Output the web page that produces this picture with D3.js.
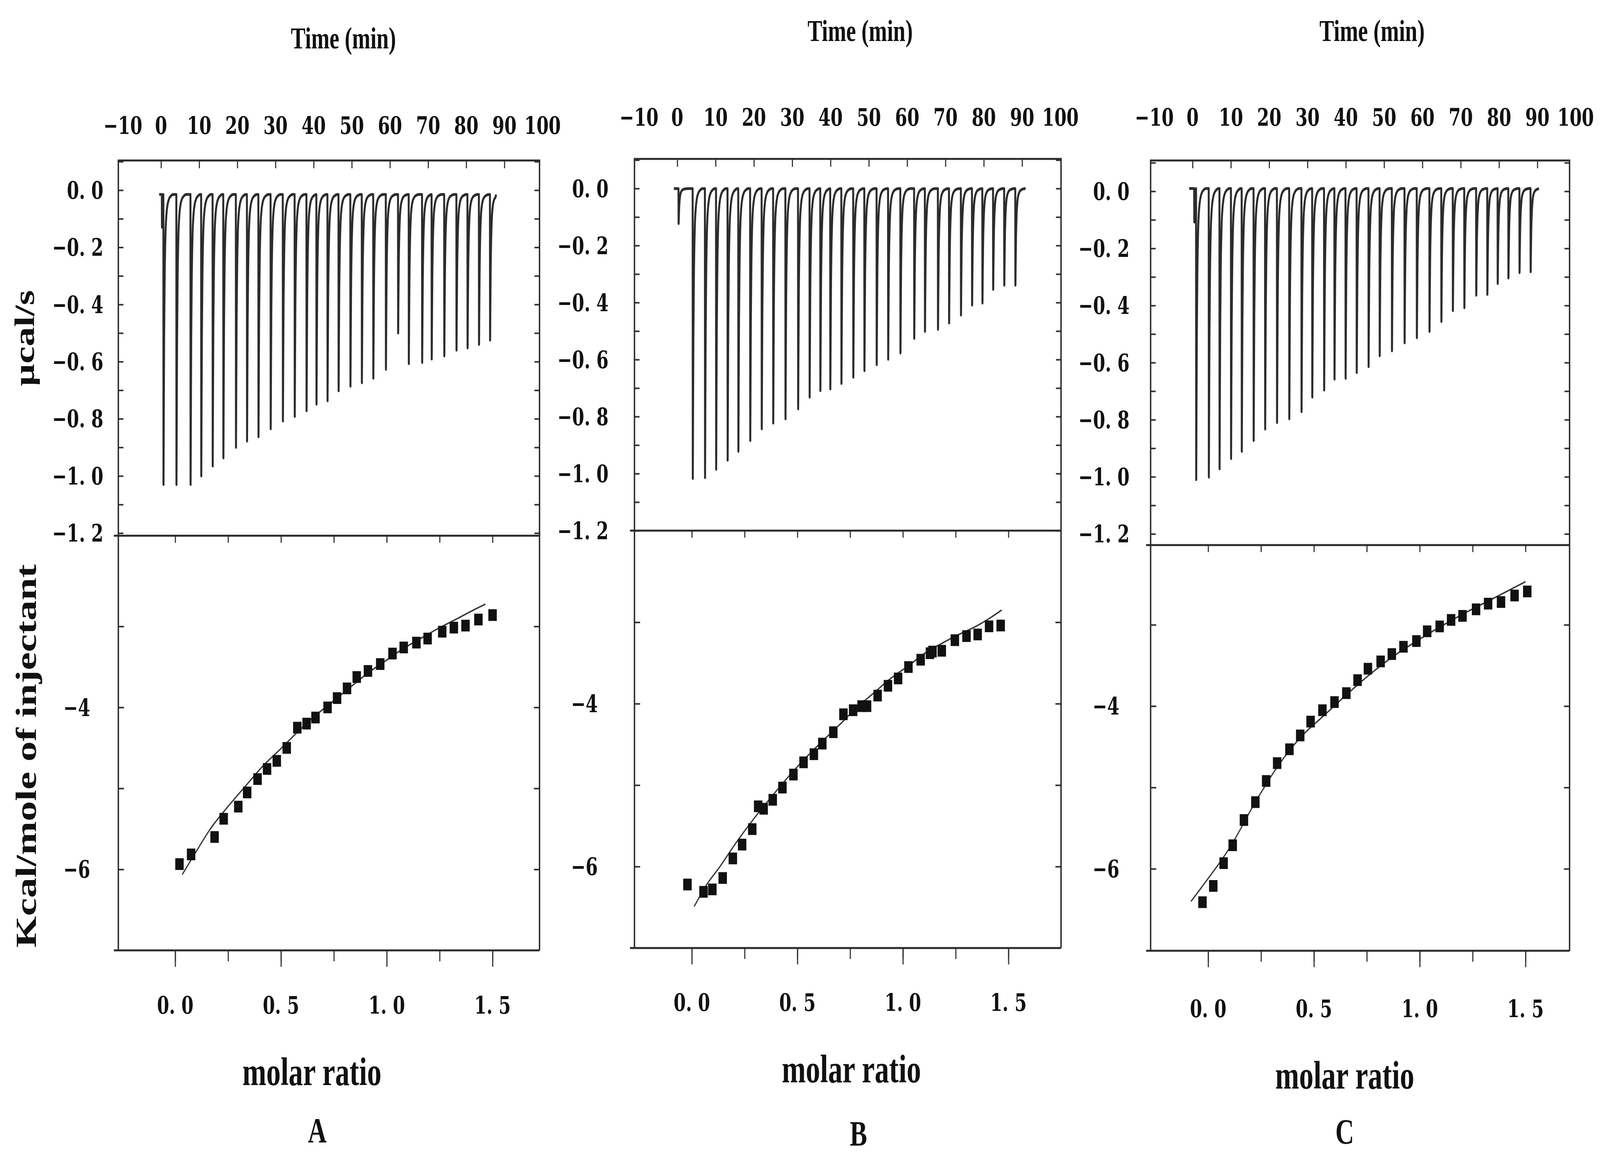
<!DOCTYPE html>
<html>
<head>
<meta charset="utf-8">
<script src="https://cdn.jsdelivr.net/npm/d3@7"></script>
<style>
  html, body { margin: 0; padding: 0; background: #fff; overflow: hidden; }
  svg { display: block; width: 100vw; height: 100vh; }
</style>
</head>
<body>
<svg id="chart" viewBox="0 0 5679 2976" preserveAspectRatio="none"></svg>
<script>
// ---- tick labels ----
const timeTicks = [-10, 0, 10, 20, 30, 40, 50, 60, 70, 80, 90, 100];
const timeMarks = [0, 10, 20, 30, 40, 50, 60, 70, 80, 90];
const powerTicks = [0, -0.2, -0.4, -0.6, -0.8, -1.0, -1.2];
const powerMarks = [0.1, 0, -0.1, -0.2, -0.3, -0.4, -0.5, -0.6, -0.7, -0.8, -0.9, -1.0, -1.1, -1.2];
const heatTicks = [-4, -6];
const heatMarks = [-3, -4, -5, -6];
const ratioTicks = [0, 0.5, 1.0, 1.5];
const ratioMarks = [0, 0.25, 0.5, 0.75, 1.0, 1.25, 1.5];

// ---- raw thermograms: injection time (min) and peak minimum (µcal/s) ----
const injTimesA = [0.2, 0.6, 4.0, 7.7, 10.5, 13.5, 16.3, 19.6, 22.5, 25.5, 28.7, 31.9, 35.0, 38.1, 40.7, 43.6, 46.5, 49.6, 52.6, 55.6, 58.9, 62.1, 64.9, 68.4, 70.9, 74.2, 77.4, 80.3, 83.3, 86.2];
const peakMinA = [-0.13, -1.03, -1.03, -1.03, -1.0, -0.965, -0.937, -0.90, -0.878, -0.863, -0.835, -0.808, -0.792, -0.772, -0.749, -0.737, -0.702, -0.686, -0.674, -0.658, -0.627, -0.50, -0.607, -0.603, -0.591, -0.58, -0.56, -0.552, -0.54, -0.525];

const injTimesB = [0.3, 4.0, 7.2, 10.1, 13.1, 15.9, 19.0, 22.0, 25.0, 28.2, 31.5, 34.5, 37.3, 39.9, 42.8, 45.9, 48.8, 52.0, 55.0, 58.2, 61.8, 64.6, 68.0, 70.9, 74.0, 76.9, 79.6, 82.4, 85.3, 88.2];
const peakMinB = [-0.123, -1.017, -1.014, -0.985, -0.953, -0.922, -0.884, -0.843, -0.823, -0.808, -0.773, -0.732, -0.709, -0.703, -0.684, -0.662, -0.639, -0.618, -0.599, -0.577, -0.526, -0.501, -0.494, -0.472, -0.444, -0.409, -0.402, -0.354, -0.339, -0.339];

const injTimesC = [0.4, 0.9, 4.2, 7.0, 10.0, 12.8, 15.9, 18.9, 22.0, 25.2, 28.4, 31.2, 34.3, 37.0, 39.9, 42.8, 45.9, 48.8, 52.0, 55.3, 58.5, 61.8, 64.9, 67.9, 70.9, 74.0, 76.9, 79.6, 82.4, 85.3, 88.2];
const peakMinC = [-0.108, -1.01, -1.001, -0.972, -0.936, -0.911, -0.873, -0.833, -0.81, -0.797, -0.772, -0.721, -0.696, -0.658, -0.655, -0.635, -0.614, -0.576, -0.559, -0.531, -0.513, -0.491, -0.456, -0.418, -0.408, -0.364, -0.361, -0.323, -0.304, -0.285, -0.282];

// baseline level and run start/end (min)
const baselineA = [-0.015, -0.5, 87.8];
const baselineB = [0.0, -0.9, 90.9];
const baselineC = [0.01, -0.9, 90.4];

// shape of one injection peak: [min after injection, fraction of peak depth]
const peakShape = [[0, 0], [0.04, 1], [0.1, 0.8], [0.2, 0.5], [0.35, 0.28], [0.55, 0.14], [0.8, 0.07], [1.1, 0.035], [1.5, 0.015], [2.0, 0.005], [2.6, 0]];

// ---- integrated heats (kcal/mol of injectant) vs molar ratio ----
const ratioA = [0.02, 0.075, 0.186, 0.229, 0.298, 0.34, 0.389, 0.434, 0.48, 0.527, 0.577, 0.621, 0.663, 0.72, 0.765, 0.812, 0.858, 0.911, 0.969, 1.027, 1.08, 1.14, 1.193, 1.262, 1.317, 1.372, 1.433, 1.5];
const heatA = [-5.935, -5.815, -5.6, -5.375, -5.225, -5.05, -4.885, -4.76, -4.66, -4.5, -4.25, -4.2, -4.125, -4.0, -3.885, -3.765, -3.625, -3.55, -3.465, -3.335, -3.26, -3.2, -3.15, -3.065, -3.015, -2.99, -2.915, -2.86];
const fitRatioA = [0.033, 0.1, 0.166, 0.249, 0.331, 0.414, 0.497, 0.58, 0.663, 0.746, 0.828, 0.911, 0.994, 1.077, 1.16, 1.243, 1.325, 1.408, 1.466];
const fitHeatA = [-6.065, -5.775, -5.5, -5.225, -4.975, -4.725, -4.515, -4.3, -4.1, -3.925, -3.75, -3.575, -3.425, -3.275, -3.15, -3.025, -2.915, -2.8, -2.725];

const ratioB = [-0.021, 0.055, 0.097, 0.146, 0.194, 0.238, 0.286, 0.314, 0.34, 0.383, 0.429, 0.481, 0.529, 0.578, 0.618, 0.67, 0.718, 0.764, 0.804, 0.83, 0.88, 0.929, 0.977, 1.026, 1.084, 1.128, 1.14, 1.184, 1.246, 1.301, 1.354, 1.408, 1.463];
const heatB = [-6.22, -6.31, -6.28, -6.14, -5.9, -5.73, -5.54, -5.26, -5.29, -5.18, -5.03, -4.87, -4.72, -4.62, -4.49, -4.35, -4.13, -4.08, -4.03, -4.03, -3.9, -3.78, -3.69, -3.55, -3.46, -3.38, -3.36, -3.35, -3.22, -3.17, -3.15, -3.05, -3.04];
const fitRatioB = [0.011, 0.068, 0.133, 0.214, 0.294, 0.375, 0.456, 0.537, 0.618, 0.699, 0.78, 0.861, 0.942, 1.023, 1.104, 1.184, 1.265, 1.346, 1.411, 1.468];
const fitHeatB = [-6.49, -6.23, -6.0, -5.69, -5.41, -5.15, -4.9, -4.67, -4.46, -4.26, -4.05, -3.87, -3.69, -3.54, -3.38, -3.26, -3.15, -3.05, -2.95, -2.85];

const ratioC = [-0.027, 0.024, 0.073, 0.116, 0.169, 0.223, 0.274, 0.326, 0.384, 0.435, 0.484, 0.54, 0.597, 0.653, 0.706, 0.755, 0.815, 0.868, 0.923, 0.984, 1.035, 1.094, 1.148, 1.202, 1.266, 1.323, 1.384, 1.448, 1.508];
const heatC = [-6.41, -6.21, -5.93, -5.71, -5.4, -5.18, -4.92, -4.7, -4.53, -4.36, -4.19, -4.05, -3.95, -3.84, -3.68, -3.54, -3.45, -3.36, -3.27, -3.2, -3.08, -3.02, -2.94, -2.89, -2.81, -2.74, -2.72, -2.64, -2.59];
const fitRatioC = [-0.081, -0.035, 0.109, 0.225, 0.326, 0.438, 0.545, 0.714, 0.863, 1.01, 1.224, 1.352, 1.5];
const fitHeatC = [-6.4, -6.24, -5.71, -5.17, -4.75, -4.38, -4.12, -3.72, -3.41, -3.16, -2.84, -2.67, -2.47];

// ---- panel layout ----
const panels = [
  { letter: "A", left: 420, right: 1915, top: 411, mid: 1372, bottom: 2434,
    tDom: [-11.2, 99.2], pDom: [0.104, -1.209], hDom: [-1.88, -7.0], rDom: [-0.269, 1.722],
    titleX: 1219, titleY: 98, tickY: 321, pGap: 53, hGap: 100, rLabY: 2574,
    xTitle: [1107, 2745], letterPos: [1126, 2895],
    inj: injTimesA, mins: peakMinA, base: baselineA,
    ratio: ratioA, heat: heatA, fitR: fitRatioA, fitH: fitHeatA },
  { letter: "B", left: 2252, right: 3766, top: 407, mid: 1359, bottom: 2428,
    tDom: [-11.18, 100.15], pDom: [0.104, -1.2], hDom: [-1.875, -7.0], rDom: [-0.272, 1.749],
    titleX: 3053, titleY: 79, tickY: 300, pGap: 92, hGap: 130, rLabY: 2567,
    xTitle: [3022, 2738], letterPos: [3047, 2903],
    inj: injTimesB, mins: peakMinB, base: baselineB,
    ratio: ratioB, heat: heatB, fitR: fitRatioB, fitH: fitHeatB },
  { letter: "C", left: 4084, right: 5571, top: 411, mid: 1396, bottom: 2435,
    tDom: [-10.96, 98.4], pDom: [0.108, -1.239], hDom: [-2.02, -7.007], rDom: [-0.272, 1.708],
    titleX: 4870, titleY: 79, tickY: 300, pGap: 75, hGap: 111, rLabY: 2583,
    xTitle: [4773, 2754], letterPos: [4773, 2898],
    inj: injTimesC, mins: peakMinC, base: baselineC,
    ratio: ratioC, heat: heatC, fitR: fitRatioC, fitH: fitHeatC }
];

const svg = d3.select('#chart');
svg.append('rect').attr('width', 5679).attr('height', 2976).attr('fill', '#fff');

const tickFont = "'DejaVu Serif', serif";
const titleFont = "'Liberation Serif', 'Times New Roman', serif";
const minus = '\u2212';

const fmtPower = d => d === 0 ? '0. 0' : minus + Math.abs(d).toFixed(1).replace('.', '. ');
const fmtRatio = d => d.toFixed(1).replace('.', '. ');
const fmtInt = d => d < 0 ? minus + Math.abs(d) : String(d);

function traceFor(p) {
  const [lvl, t0, t1] = p.base;
  const pts = [[t0, lvl]];
  p.inj.forEach((t, i) => {
    const next = i < p.inj.length - 1 ? p.inj[i + 1] : t1;
    peakShape.forEach(([dt, f]) => {
      if (t + dt < next) pts.push([t + dt, lvl + (p.mins[i] - lvl) * f]);
    });
  });
  pts.push([t1, lvl]);
  return pts;
}

panels.forEach(p => {
  const g = svg.append('g');

  const xT = d3.scaleLinear().domain(p.tDom).range([p.left, p.right]);
  const yP = d3.scaleLinear().domain(p.pDom).range([p.top, p.mid]);
  const xR = d3.scaleLinear().domain(p.rDom).range([p.left, p.right]);
  const yH = d3.scaleLinear().domain(p.hDom).range([p.mid, p.bottom]);

  // inward tick marks
  const tickStyle = sel => {
    sel.select('.domain').remove();
    sel.selectAll('line').attr('stroke', '#333').attr('stroke-width', 4);
  };
  g.append('g').attr('transform', `translate(0,${p.top})`)
    .call(d3.axisBottom(xT).tickValues(timeMarks).tickSize(20).tickFormat(''))
    .call(tickStyle);
  g.append('g').attr('transform', `translate(${p.left},0)`)
    .call(d3.axisRight(yP).tickValues(powerMarks).tickSize(18).tickFormat(''))
    .call(tickStyle);
  g.append('g').attr('transform', `translate(${p.right},0)`)
    .call(d3.axisLeft(yP).tickValues(powerMarks).tickSize(18).tickFormat(''))
    .call(tickStyle);
  g.append('g').attr('transform', `translate(0,${p.mid})`)
    .call(d3.axisBottom(xR).tickValues(ratioMarks).tickSize(18).tickFormat(''))
    .call(tickStyle);
  g.append('g').attr('transform', `translate(${p.left},0)`)
    .call(d3.axisRight(yH).tickValues(heatMarks).tickSize(20).tickFormat(''))
    .call(tickStyle);
  g.append('g').attr('transform', `translate(${p.right},0)`)
    .call(d3.axisLeft(yH).tickValues(heatMarks).tickSize(20).tickFormat(''))
    .call(tickStyle);
  // outward ticks under the bottom axis
  g.append('g').attr('transform', `translate(0,${p.bottom})`)
    .call(d3.axisBottom(xR).tickValues(ratioMarks).tickSize(28).tickFormat(''))
    .call(tickStyle);
  g.append('g').attr('transform', `translate(0,${p.bottom})`)
    .call(d3.axisBottom(xR).tickValues(ratioTicks).tickSize(42).tickFormat(''))
    .call(tickStyle);

  // frame
  g.append('path')
    .attr('d', `M${p.left},${p.bottom} L${p.left},${p.top} L${p.right},${p.top} L${p.right},${p.bottom}`)
    .attr('fill', 'none').attr('stroke', '#2a2a2a').attr('stroke-width', 5);
  g.append('line').attr('x1', p.left - 16).attr('x2', p.right).attr('y1', p.mid).attr('y2', p.mid)
    .attr('stroke', '#2a2a2a').attr('stroke-width', 5);
  g.append('line').attr('x1', p.left - 16).attr('x2', p.right).attr('y1', p.bottom).attr('y2', p.bottom)
    .attr('stroke', '#2a2a2a').attr('stroke-width', 5);

  // raw thermogram
  const line = d3.line().x(d => xT(d[0])).y(d => yP(d[1])).curve(d3.curveMonotoneX);
  g.append('path').datum(traceFor(p))
    .attr('d', line)
    .attr('fill', 'none').attr('stroke', '#151515').attr('stroke-width', 7)
    .attr('stroke-linejoin', 'round').attr('stroke-opacity', 0.9);

  // fit curve
  const fitLine = d3.line().x(d => xR(d[0])).y(d => yH(d[1])).curve(d3.curveMonotoneX);
  g.append('path').datum(d3.zip(p.fitR, p.fitH))
    .attr('d', fitLine)
    .attr('fill', 'none').attr('stroke', '#3a3a3a').attr('stroke-width', 4);

  // integrated heat squares
  const sq = 30;
  g.selectAll('rect.pt').data(d3.zip(p.ratio, p.heat)).join('rect')
    .attr('class', 'pt')
    .attr('x', d => xR(d[0]) - sq / 2).attr('y', d => yH(d[1]) - sq / 2)
    .attr('width', sq).attr('height', sq)
    .attr('fill', '#111');

  // tick labels
  const labelText = sel => sel.attr('font-family', tickFont).attr('font-weight', 'bold')
    .attr('font-size', 62).attr('fill', '#111').attr('dominant-baseline', 'central');

  g.selectAll('text.tt').data(timeTicks).join('text').attr('class', 'tt')
    .attr('x', d => xT(d)).attr('y', p.tickY).attr('text-anchor', 'middle')
    .text(fmtInt).call(labelText);

  g.selectAll('text.pt').data(powerTicks).join('text').attr('class', 'pt')
    .attr('x', p.left - p.pGap).attr('y', d => yP(d)).attr('text-anchor', 'end')
    .text(fmtPower).call(labelText);

  g.selectAll('text.ht').data(heatTicks).join('text').attr('class', 'ht')
    .attr('x', p.left - p.hGap).attr('y', d => yH(d)).attr('text-anchor', 'end')
    .text(fmtInt).call(labelText);

  g.selectAll('text.rt').data(ratioTicks).join('text').attr('class', 'rt')
    .attr('x', d => xR(d)).attr('y', p.rLabY).attr('text-anchor', 'middle')
    .text(fmtRatio).call(labelText);

  // titles
  const titleText = (sel, size) => sel.attr('font-family', titleFont).attr('font-weight', 'bold')
    .attr('font-size', size).attr('fill', '#111').attr('text-anchor', 'middle')
    .attr('dominant-baseline', 'central');

  g.append('text').attr('x', p.titleX).attr('y', p.titleY).text('Time (min)').call(titleText, 78);
  g.append('text').attr('x', p.xTitle[0]).attr('y', p.xTitle[1]).text('molar ratio').call(titleText, 102);
  g.append('text').attr('x', p.letterPos[0]).attr('y', p.letterPos[1]).text(p.letter).call(titleText, 92);
});

// y-axis titles (left panel only)
svg.append('text')
  .attr('transform', 'translate(87,866) rotate(-90)')
  .attr('font-family', titleFont).attr('font-weight', 'bold').attr('font-size', 100)
  .attr('text-anchor', 'middle').attr('dominant-baseline', 'central').attr('fill', '#111')
  .text('µcal/s');
svg.append('text')
  .attr('transform', 'translate(93,1936) rotate(-90)')
  .attr('font-family', titleFont).attr('font-weight', 'bold').attr('font-size', 104)
  .attr('text-anchor', 'middle').attr('dominant-baseline', 'central').attr('fill', '#111')
  .text('Kcal/mole of injectant');
</script>
</body>
</html>
